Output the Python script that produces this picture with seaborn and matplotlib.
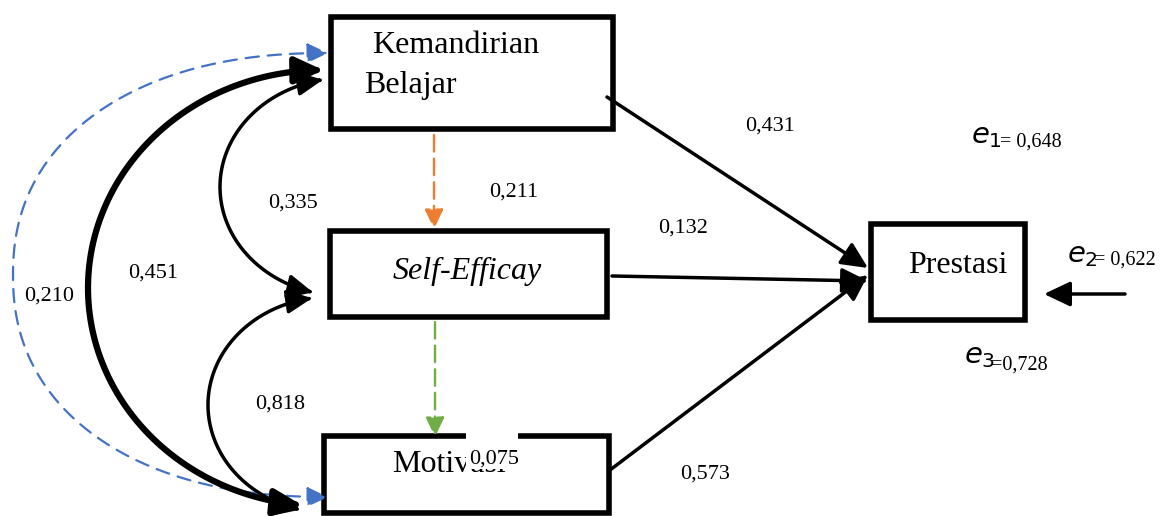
import numpy as np
import matplotlib
matplotlib.use("Agg")
import matplotlib.pyplot as plt
import seaborn as sns
from matplotlib.patches import Rectangle, FancyArrowPatch
from matplotlib.path import Path

# variabel dan koefisien jalur
variables = ["Kemandirian", "Belajar", "Self-Efficay", "Motivasi", "Prestasi"]
direct_paths = [0.431, 0.132, 0.573]          # K, SE, M -> Prestasi
mediator_paths = [0.211, 0.075]               # K -> SE, SE -> M
correlations = [0.335, 0.818, 0.451, 0.210]   # K-SE, SE-M, K-M (tebal), K-M (putus-putus)
errors = [0.648, 0.622, 0.728]


def fmt(v):
    return f"{v:.3f}".replace(".", ",")


sns.set_theme(style="white")
plt.rcParams["font.family"] = ["Liberation Serif", "DejaVu Serif"]
plt.rcParams["mathtext.fontset"] = "dejavusans"
plt.rcParams["text.color"] = "black"

fig = plt.figure(figsize=(11.7, 5.16), dpi=100)
ax = fig.add_axes([0, 0, 1, 1])
ax.set_xlim(0, 1170)
ax.set_ylim(516, 0)
ax.axis("off")

# kotak variabel
boxes = {
    "K": (331, 17, 282, 112),
    "SE": (330, 231, 277, 86),
    "M": (324, 436, 285, 77),
    "P": (871, 224, 154, 96),
}
for x, y, w, h in boxes.values():
    ax.add_patch(Rectangle((x, y), w, h, fill=False, lw=4, ec="black", zorder=3))

ax.text(372, 53, variables[0], fontsize=23, va="baseline", zorder=5)
ax.text(364, 93, variables[1], fontsize=23, va="baseline", zorder=5)
ax.text(467, 279, variables[2], fontsize=23, style="italic", ha="center", va="baseline", zorder=5)
ax.text(392, 472, variables[3], fontsize=23, va="baseline", zorder=5)
ax.text(908, 273, variables[4], fontsize=23, va="baseline", zorder=5)

# label 0,075 menutupi sebagian teks Motivasi
ax.add_patch(Rectangle((466, 428), 52, 41, fc="white", ec="none", zorder=6))
ax.text(469, 464, fmt(mediator_paths[1]), fontsize=16, va="baseline", zorder=7)


def arrow(start, end, color="black", lw=2.5, ls="-", scale=20):
    ax.annotate("", xy=end, xytext=start,
                arrowprops=dict(arrowstyle="-|>,head_length=0.8,head_width=0.38",
                                lw=lw, color=color, ls=ls, shrinkA=0, shrinkB=0,
                                mutation_scale=scale), zorder=4)


def arc(cx, cy, rx, ry, phi0, phi1, a=1.0, color="black", lw=2.5, ls="-", scale=20):
    t = np.linspace(phi0, phi1, 120)
    s, c = np.sin(t), np.cos(t)
    x = cx - rx * np.sign(s) * np.abs(s) ** a
    y = cy - ry * np.sign(c) * np.abs(c) ** a
    p = FancyArrowPatch(path=Path(np.column_stack([x, y])),
                        arrowstyle="<|-|>,head_length=0.8,head_width=0.38",
                        lw=lw, color=color, ls=ls, mutation_scale=scale, zorder=4)
    ax.add_patch(p)


# jalur langsung ke Prestasi
arrow((607, 97), (868, 268))
arrow((612, 276), (868, 281))
arrow((610, 470), (868, 275))
arrow((1125, 294), (1044, 294))

# jalur mediasi
arrow((434, 135), (434, 229), color="#ED7D31", lw=1.7, ls=(0, (7, 3)), scale=15)
arrow((435, 322), (435, 437), color="#70AD47", lw=1.7, ls=(0, (7, 3)), scale=15)

# korelasi
arc(328, 275, 315, 222, 0.0, np.pi, a=0.9, color="#4472C4", lw=1.6, ls=(0, (6, 4)), scale=16)
arc(323, 288, 235, 218, 0.0, np.pi - 0.09, lw=4.5, scale=21)
arc(345, 187, 125, 109, np.arcsin(22 / 125), np.pi - np.arcsin(32 / 125), lw=2.5, scale=19)
arc(330, 405, 122, 108, np.arcsin(18 / 122), np.pi - np.arcsin(30 / 122), lw=2.5, scale=19)

# label koefisien
labels = [
    (745, 131, direct_paths[0]),
    (658, 233, direct_paths[1]),
    (680, 479, direct_paths[2]),
    (489, 197, mediator_paths[0]),
    (268, 208, correlations[0]),
    (255, 409, correlations[1]),
    (128, 278, correlations[2]),
    (24, 301, correlations[3]),
]
for x, y, v in labels:
    ax.text(x, y, fmt(v), fontsize=16, va="baseline", zorder=5)

# galat
ax.text(971, 143, r"$e_{1}$", fontsize=21, va="baseline")
ax.text(1000, 147, "= " + fmt(errors[0]), fontsize=14.5, va="baseline")
ax.text(1067, 262, r"$e_{2}$", fontsize=21, va="baseline")
ax.text(1094, 265, "= " + fmt(errors[1]), fontsize=14.5, va="baseline")
ax.text(964, 363, r"$e_{3}$", fontsize=21, va="baseline")
ax.text(991, 370, "=" + fmt(errors[2]), fontsize=14.5, va="baseline")

fig.savefig("out.png", dpi=100)
